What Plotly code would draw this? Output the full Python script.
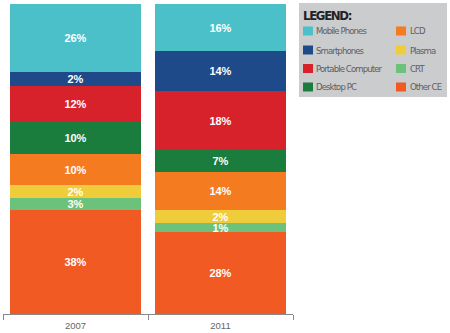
import plotly.graph_objects as go

# ---- data ----
years = ["2007", "2011"]
series = ["Mobile Phones", "Smartphones", "Portable Computer", "Desktop PC",
          "LCD", "Plasma", "CRT", "Other CE"]
# segment heights as drawn (share of the bar, %)
share_2007 = [22.0, 4.5, 11.6, 10.3, 10.0, 4.2, 3.9, 33.5]
share_2011 = [15.2, 12.9, 19.1, 6.9, 12.4, 4.2, 2.9, 26.4]
# printed labels
label_2007 = ["26%", "2%", "12%", "10%", "10%", "2%", "3%", "38%"]
label_2011 = ["16%", "14%", "18%", "7%", "14%", "2%", "1%", "28%"]
colors = ["#4BC0C9", "#1E4A8A", "#D8222B", "#1B7D3D",
          "#F47B20", "#EFCD3A", "#6CC27A", "#F15A22"]

# legend arrangement: two columns
legend_col1 = ["Mobile Phones", "Smartphones", "Portable Computer", "Desktop PC"]
legend_col2 = ["LCD", "Plasma", "CRT", "Other CE"]

W, H = 450, 333
ML, MR, MT, MB = 3, 157, 4, 19
PW, PH = W - ML - MR, H - MT - MB


def px(x):
    return (x - ML) / PW


def py(y):
    return (H - MB - y) / PH


narrow = "DejaVu Sans Condensed, Liberation Sans Narrow, Arial Narrow, sans-serif"

fig = go.Figure()
# stack bottom to top: reverse order of series
for i in reversed(range(len(series))):
    fig.add_trace(go.Bar(
        x=years,
        y=[share_2007[i], share_2011[i]],
        name=series[i],
        marker=dict(color=colors[i], line=dict(width=0)),
        text=[label_2007[i], label_2011[i]],
        textposition="inside",
        insidetextanchor="middle",
        textangle=0,
        textfont=dict(family="Liberation Sans, Arial, sans-serif", size=11,
                      color="#FFFFFF", weight="bold"),
        showlegend=False,
        hoverinfo="skip",
    ))

shapes = [dict(type="rect", xref="paper", yref="paper",
               x0=px(299), x1=px(447), y0=py(97), y1=py(3),
               fillcolor="#CBCCCE", line=dict(width=0), layer="below")]
annotations = [dict(text='<span style="letter-spacing:-1.3px"><b>LEGEND:</b></span>',
                    xref="paper", yref="paper",
                    x=px(301), y=py(15), xanchor="left", yanchor="middle",
                    showarrow=False,
                    font=dict(family=narrow, size=13, color="#222222"))]

row_y = [31, 50, 68.5, 87]
for col, (names, sx, tx) in enumerate([(legend_col1, 303, 314),
                                        (legend_col2, 396, 408)]):
    for r, name in enumerate(names):
        c = colors[series.index(name)]
        shapes.append(dict(type="rect", xref="paper", yref="paper",
                           x0=px(sx), x1=px(sx + 10),
                           y0=py(row_y[r] + 4.5), y1=py(row_y[r] - 4.5),
                           fillcolor=c, line=dict(width=0)))
        annotations.append(dict(
            text='<span style="letter-spacing:-0.9px">' + name + '</span>',
            xref="paper", yref="paper",
            x=px(tx), y=py(row_y[r]), xanchor="left",
            yanchor="middle", showarrow=False,
            font=dict(family=narrow, size=9.5, color="#5E5E5E")))

fig.update_layout(
    width=W, height=H,
    margin=dict(l=ML, r=MR, t=MT, b=MB),
    barmode="stack",
    bargap=0.09,
    plot_bgcolor="#FFFFFF",
    paper_bgcolor="#FFFFFF",
    uniformtext=dict(minsize=11, mode="show"),
    shapes=shapes,
    annotations=annotations,
    xaxis=dict(
        type="category",
        range=[-0.5, 1.5],
        showline=True, linecolor="#8A8A8A", linewidth=1,
        ticks="outside", tickson="boundaries", ticklen=5,
        tickcolor="#8A8A8A", tickwidth=1,
        showgrid=False, zeroline=False,
        ticklabelstandoff=3,
        tickfont=dict(family="Liberation Sans, Arial, sans-serif", size=9.5,
                      color="#666666"),
    ),
    yaxis=dict(range=[0, 100], visible=False, showgrid=False),
)

fig.write_html("out.html")
